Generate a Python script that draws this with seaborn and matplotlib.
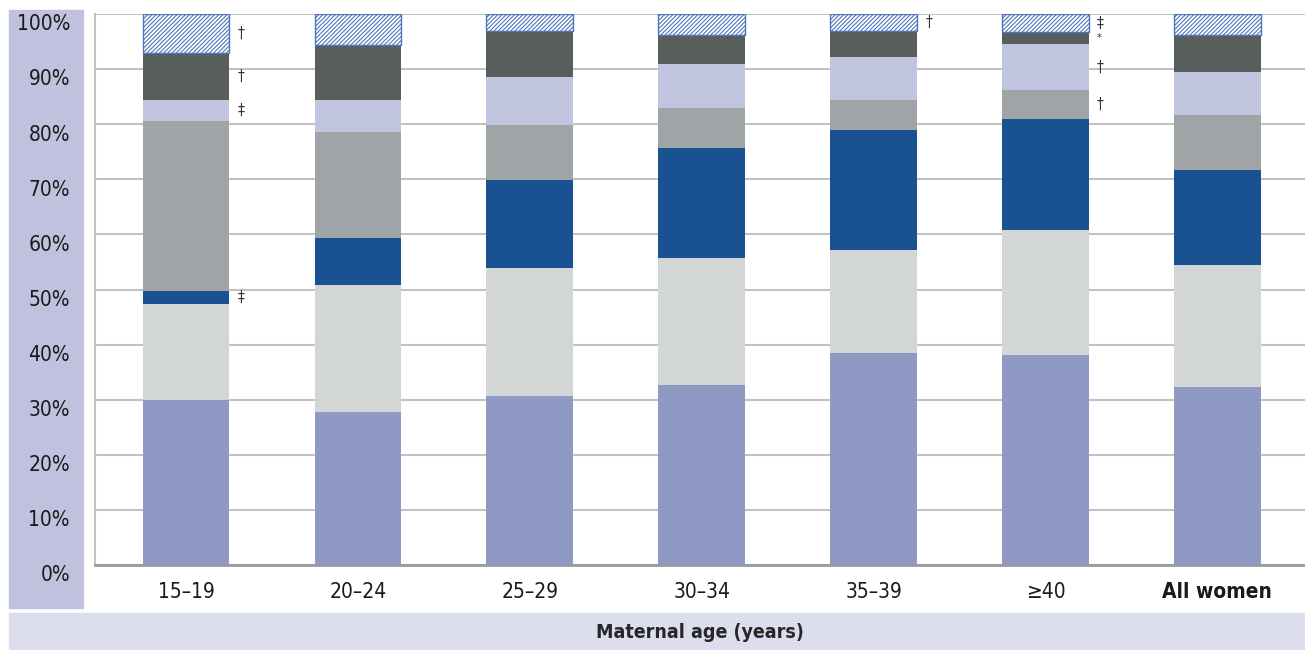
import seaborn as sns
import numpy as np
import matplotlib.pyplot as plt
from matplotlib.patches import Rectangle
from matplotlib.transforms import ScaledTranslation

# categories
ages = ['15–19', '20–24', '25–29', '30–34', '35–39', '≥40', 'All women']

# stacked segments, bottom to top (percent)
seg_1 = [30.0, 27.8, 30.7, 32.7, 38.5, 38.1, 32.3]
seg_2 = [17.4, 23.0, 23.2, 23.0, 18.7, 22.7, 22.1]
seg_3 = [2.3, 8.5, 16.0, 20.0, 21.7, 20.1, 17.3]
seg_4 = [30.9, 19.3, 10.0, 7.2, 5.5, 5.3, 10.0]
seg_5 = [3.8, 5.8, 8.7, 8.0, 7.8, 8.4, 7.8]
seg_6 = [8.5, 10.0, 8.3, 5.3, 4.7, 2.1, 6.7]
seg_7 = [7.1, 5.6, 3.1, 3.8, 3.1, 3.3, 3.8]
segments = [seg_1, seg_2, seg_3, seg_4, seg_5, seg_6, seg_7]
seg_colors = ['#8e9ac4', '#d3d6d7', '#1a5190', '#9fa4a6', '#c1c4df', '#585e5c', 'white']

# reliability markers: bar index, segment index, symbol
note_bar = [0, 0, 0, 0, 4, 5, 5, 5, 5]
note_seg = [6, 5, 4, 2, 6, 6, 5, 4, 3]
note_sym = ['†', '†', '‡', '‡', '†', '‡', '*', '†', '†']

y_ticks = list(range(0, 101, 10))

sns.set_style('white')
plt.rcParams['font.family'] = ['DejaVu Sans']
plt.rcParams['font.stretch'] = 'condensed'
plt.rcParams['hatch.linewidth'] = 0.8

fig = plt.figure(figsize=(13.05, 6.5), dpi=100)
ax = fig.add_axes([95 / 1305, 85 / 650, 1210 / 1305, 551 / 650])

# background boxes
fig.patches.append(Rectangle((9 / 1305, 42 / 650), 74 / 1305, 598 / 650,
                             transform=fig.transFigure, color='#bfc1de', zorder=-1))
fig.patches.append(Rectangle((9 / 1305, 0), 1296 / 1305, 37 / 650,
                             transform=fig.transFigure, color='#dcdeed', zorder=-1))

bottom = np.zeros(len(ages))
for i, (vals, c) in enumerate(zip(segments, seg_colors)):
    if i == 6:
        sns.barplot(x=ages, y=vals, bottom=bottom, color='white', edgecolor='#4d76bb',
                    hatch='////////', linewidth=1.0, width=0.505, ax=ax, zorder=3)
    else:
        sns.barplot(x=ages, y=vals, bottom=bottom, color=c, linewidth=0,
                    width=0.505, ax=ax, zorder=3, saturation=1)
    bottom = bottom + np.array(vals)

# markers next to the bars
cum = np.cumsum(np.array(segments), axis=0)
for b, s, sym in zip(note_bar, note_seg, note_sym):
    mid = cum[s][b] - segments[s][b] / 2
    fs = 8 if sym == '*' else 11
    ax.text(b + 0.3, mid, sym, ha='left', va='center', fontsize=fs, color='#333333')

ax.set_ylim(0, 100)
ax.set_xlim(-0.53, 6.51)
ax.set_yticks(y_ticks)
ax.set_yticklabels([f'{t}%' for t in y_ticks])
ax.yaxis.grid(True, color='#c2c2c2', linewidth=1.5, zorder=0)
ax.set_axisbelow(True)
ax.tick_params(axis='y', length=0, pad=18, labelsize=15, labelcolor='#1a1a1a')
ax.tick_params(axis='x', length=0, pad=12, labelsize=15, labelcolor='#1a1a1a')
for lab in ax.get_xticklabels():
    if lab.get_text() == 'All women':
        lab.set_fontweight('bold')
shift = ScaledTranslation(0, -6 / 72, fig.dpi_scale_trans)
for tick in ax.yaxis.get_major_ticks():
    tick.label1.set_transform(tick.label1.get_transform() + shift)

for side in ['top', 'right']:
    ax.spines[side].set_visible(False)
ax.spines['left'].set_color('#c2c2c2')
ax.spines['left'].set_linewidth(1.5)
ax.spines['bottom'].set_color('#999999')
ax.spines['bottom'].set_linewidth(2)
ax.set_xlabel('')
ax.set_ylabel('')

fig.text((95 + 1210 / 2) / 1305, 17 / 650, 'Maternal age (years)', ha='center', va='center',
         fontsize=14, fontweight='bold')

fig.savefig('out.png', dpi=100)
